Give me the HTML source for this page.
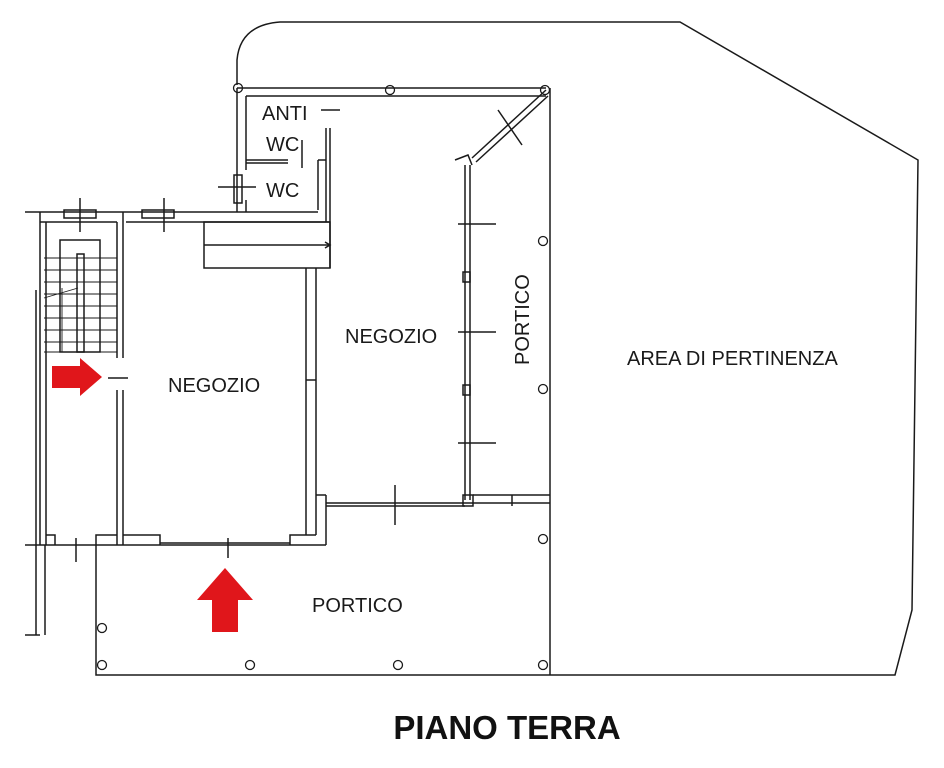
<!DOCTYPE html>
<html><head><meta charset="utf-8"><style>
html,body{margin:0;padding:0;background:#fff;}
svg{display:block}
text{font-family:"Liberation Sans",sans-serif;fill:#1a1a1a}
</style></head><body>
<svg width="944" height="768" viewBox="0 0 944 768" xmlns="http://www.w3.org/2000/svg">
<g fill="none" stroke="#1a1a1a" stroke-width="1.5">
<path d="M237 85 L237 60 Q240 25 280 22 L680 22 L918 160 L912 610 L895 675 L96 675 L96 545"/>
<line x1="550" y1="88" x2="550" y2="675"/>
<line x1="237" y1="88" x2="546" y2="88"/>
<line x1="246" y1="96" x2="546" y2="96"/>
<line x1="246" y1="96" x2="246" y2="170"/>
<line x1="237" y1="88" x2="237" y2="212"/>
<line x1="246" y1="200" x2="246" y2="212"/>
<line x1="246" y1="160" x2="288" y2="160"/>
<line x1="246" y1="163" x2="288" y2="163"/>
<line x1="302" y1="140" x2="302" y2="168"/>
<line x1="326" y1="128" x2="326" y2="222"/>
<line x1="330" y1="128" x2="330" y2="268"/>
<line x1="318" y1="160" x2="326" y2="160"/>
<line x1="318" y1="160" x2="318" y2="210"/>
<line x1="321" y1="110" x2="340" y2="110"/>
<rect x="234" y="175" width="8" height="28"/>
<line x1="218" y1="187" x2="256" y2="187"/>
<line x1="25" y1="212" x2="318" y2="212"/>
<line x1="40" y1="222" x2="117" y2="222"/>
<line x1="126" y1="222" x2="330" y2="222"/>
<rect x="64" y="210" width="32" height="8"/>
<rect x="142" y="210" width="32" height="8"/>
<line x1="80" y1="198" x2="80" y2="232"/>
<line x1="164" y1="198" x2="164" y2="232"/>
<rect x="204" y="222" width="126" height="46"/>
<line x1="204" y1="245" x2="330" y2="245"/>
<path d="M325 242 L330 245 L325 248"/>
<line x1="40" y1="212" x2="40" y2="545"/>
<line x1="46" y1="222" x2="46" y2="545"/>
<line x1="36" y1="290" x2="36" y2="635"/>
<path d="M25 635 L40 635"/>
<line x1="117" y1="222" x2="117" y2="358"/>
<line x1="123" y1="212" x2="123" y2="358"/>
<line x1="117" y1="390" x2="117" y2="545"/>
<line x1="123" y1="390" x2="123" y2="545"/>
<line x1="108" y1="378" x2="128" y2="378"/>
<rect x="60" y="240" width="40" height="112"/>
<rect x="77" y="254" width="7" height="98"/>
<g stroke-width="0.9">
<line x1="44" y1="258" x2="117" y2="258"/><line x1="44" y1="270" x2="117" y2="270"/>
<line x1="44" y1="282" x2="117" y2="282"/><line x1="44" y1="294" x2="117" y2="294"/>
<line x1="44" y1="306" x2="117" y2="306"/><line x1="44" y1="318" x2="117" y2="318"/>
<line x1="44" y1="330" x2="117" y2="330"/><line x1="44" y1="342" x2="117" y2="342"/>
<line x1="44" y1="352" x2="117" y2="352"/>
<line x1="44" y1="298" x2="78" y2="288"/>
<line x1="62" y1="288" x2="62" y2="352"/>
</g>
<line x1="306" y1="268" x2="306" y2="535"/>
<line x1="316" y1="268" x2="316" y2="535"/>
<line x1="316" y1="495" x2="326" y2="495"/>
<line x1="326" y1="495" x2="326" y2="545"/>
<path d="M46 535 L55 535 L55 545"/>
<path d="M96 545 L96 535 L117 535"/>
<path d="M123 535 L160 535 L160 545"/>
<path d="M290 545 L290 535 L316 535"/>
<line x1="25" y1="545" x2="326" y2="545"/>
<line x1="160" y1="543" x2="290" y2="543"/>
<line x1="76" y1="538" x2="76" y2="562"/>
<line x1="228" y1="538" x2="228" y2="558"/>
<line x1="45" y1="545" x2="45" y2="635"/>
<line x1="306" y1="380" x2="316" y2="380"/>
<line x1="326" y1="503" x2="550" y2="503"/>
<line x1="326" y1="506" x2="465" y2="506"/>
<line x1="395" y1="485" x2="395" y2="525"/>
<rect x="463" y="495" width="10" height="11"/>
<line x1="473" y1="495" x2="550" y2="495"/>
<line x1="512" y1="495" x2="512" y2="506"/>
<line x1="465" y1="165" x2="465" y2="500"/>
<line x1="470" y1="165" x2="470" y2="500"/>
<path d="M455 160 L468 155 L472 165"/>
<line x1="472" y1="158" x2="546" y2="90"/>
<line x1="476" y1="162" x2="548" y2="96"/>
<line x1="498" y1="110" x2="522" y2="145"/>
<line x1="458" y1="224" x2="496" y2="224"/>
<line x1="458" y1="332" x2="496" y2="332"/>
<line x1="458" y1="443" x2="496" y2="443"/>
<rect x="463" y="272" width="7" height="10"/>
<rect x="463" y="385" width="7" height="10"/>
<g stroke-width="1.3">
<circle cx="238" cy="88" r="4.5"/><circle cx="390" cy="90" r="4.5"/><circle cx="545" cy="90" r="4.5"/>
<circle cx="543" cy="241" r="4.5"/><circle cx="543" cy="389" r="4.5"/><circle cx="543" cy="539" r="4.5"/>
<circle cx="543" cy="665" r="4.5"/><circle cx="398" cy="665" r="4.5"/><circle cx="250" cy="665" r="4.5"/>
<circle cx="102" cy="665" r="4.5"/><circle cx="102" cy="628" r="4.5"/>
</g>
</g>
<path d="M52 366 L80 366 L80 358 L102 377 L80 396 L80 388 L52 388 Z" fill="#e0161b"/>
<path d="M225 568 L253 600 L238 600 L238 632 L212 632 L212 600 L197 600 Z" fill="#e0161b"/>
<text x="262" y="120" font-size="20">ANTI</text>
<text x="266" y="151" font-size="20">WC</text>
<text x="266" y="197" font-size="20">WC</text>
<text x="345" y="343" font-size="20">NEGOZIO</text>
<text x="168" y="392" font-size="20">NEGOZIO</text>
<text transform="translate(529,365) rotate(-90)" font-size="20">PORTICO</text>
<text x="627" y="365" font-size="20">AREA DI PERTINENZA</text>
<text x="312" y="612" font-size="20">PORTICO</text>
<text x="507" y="739" font-size="33" font-weight="bold" text-anchor="middle" style="fill:#111">PIANO TERRA</text>
</svg>
</body></html>
